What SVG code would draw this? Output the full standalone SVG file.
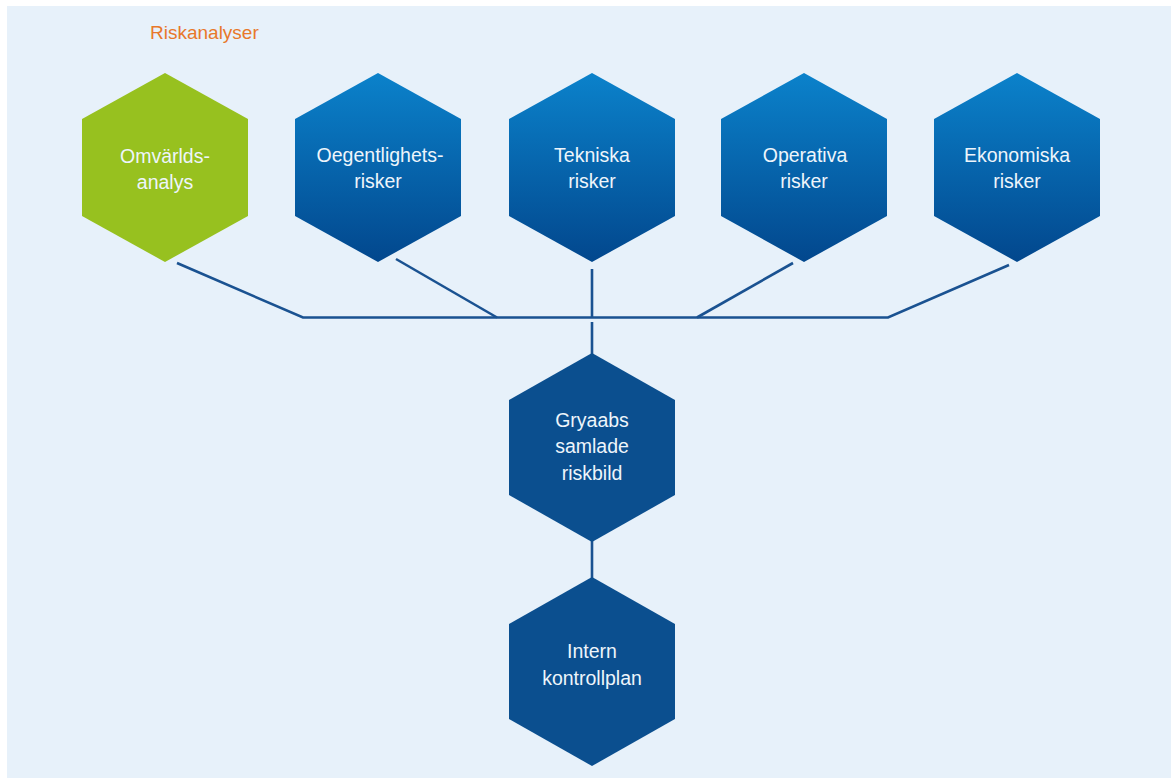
<svg xmlns="http://www.w3.org/2000/svg" width="1171" height="778" viewBox="0 0 1171 778">
  <defs>
    <linearGradient id="blueGrad" x1="0" y1="0" x2="0" y2="1">
      <stop offset="0" stop-color="#0b82cb"/>
      <stop offset="1" stop-color="#02478d"/>
    </linearGradient>
    <style>
      .lbl { font-family: "Liberation Sans", Arial, sans-serif; font-size: 19.5px; fill: #eef5fb; text-anchor: middle; }
      .title { font-family: "Liberation Sans", Arial, sans-serif; font-size: 19px; fill: #e8782a; }
      .grad { fill: url(#blueGrad); }
      .solid { fill: #0b4f8f; }
      .green { fill: #97c11f; }
      .conn { stroke: #1a5291; stroke-width: 2.6; fill: none; stroke-linecap: butt; stroke-linejoin: miter; }
    </style>
  </defs>
  <rect x="0" y="0" width="1171" height="778" fill="#ffffff"/>
  <rect x="7" y="6" width="1164" height="772" fill="#e7f1fa"/>

  <text class="title" x="150" y="39">Riskanalyser</text>

  <g id="connectors">
    <polyline class="conn" points="177,263 303,317.5 888,317.5 1009,265"/>
    <line class="conn" x1="396" y1="259" x2="497" y2="317.5"/>
    <line class="conn" x1="793" y1="263" x2="697" y2="317.5"/>
    <line class="conn" x1="592" y1="269" x2="592" y2="317.5"/>
    <line class="conn" x1="592" y1="322" x2="592" y2="354"/>
    <line class="conn" x1="592" y1="541" x2="592" y2="578"/>
  </g>

  <g id="node-omvarld">
    <polygon class="green" points="165,73 248,119 248,216 165,262 82,216 82,119"/>
    <text class="lbl" x="165" y="163">Omvärlds-</text>
    <text class="lbl" x="165" y="189">analys</text>
  </g>

  <g id="node-oegentlighet">
    <polygon class="grad" points="378,73 461,119 461,216 378,262 295,216 295,119"/>
    <text class="lbl" x="380" y="162">Oegentlighets-</text>
    <text class="lbl" x="378" y="188">risker</text>
  </g>

  <g id="node-tekniska">
    <polygon class="grad" points="592,73 675,119 675,216 592,262 509,216 509,119"/>
    <text class="lbl" x="592" y="162">Tekniska</text>
    <text class="lbl" x="592" y="188">risker</text>
  </g>

  <g id="node-operativa">
    <polygon class="grad" points="804,73 887,119 887,216 804,262 721,216 721,119"/>
    <text class="lbl" x="805" y="162">Operativa</text>
    <text class="lbl" x="804" y="188">risker</text>
  </g>

  <g id="node-ekonomiska">
    <polygon class="grad" points="1017,73 1100,119 1100,216 1017,262 934,216 934,119"/>
    <text class="lbl" x="1017" y="162">Ekonomiska</text>
    <text class="lbl" x="1017" y="188">risker</text>
  </g>

  <g id="node-riskbild">
    <polygon class="solid" points="592,353 675,400 675,495 592,542 509,495 509,400"/>
    <text class="lbl" x="592" y="427">Gryaabs</text>
    <text class="lbl" x="592" y="453">samlade</text>
    <text class="lbl" x="592" y="480">riskbild</text>
  </g>

  <g id="node-kontrollplan">
    <polygon class="solid" points="592,577 675,624 675,719 592,766 509,719 509,624"/>
    <text class="lbl" x="592" y="658">Intern</text>
    <text class="lbl" x="592" y="685">kontrollplan</text>
  </g>
</svg>
